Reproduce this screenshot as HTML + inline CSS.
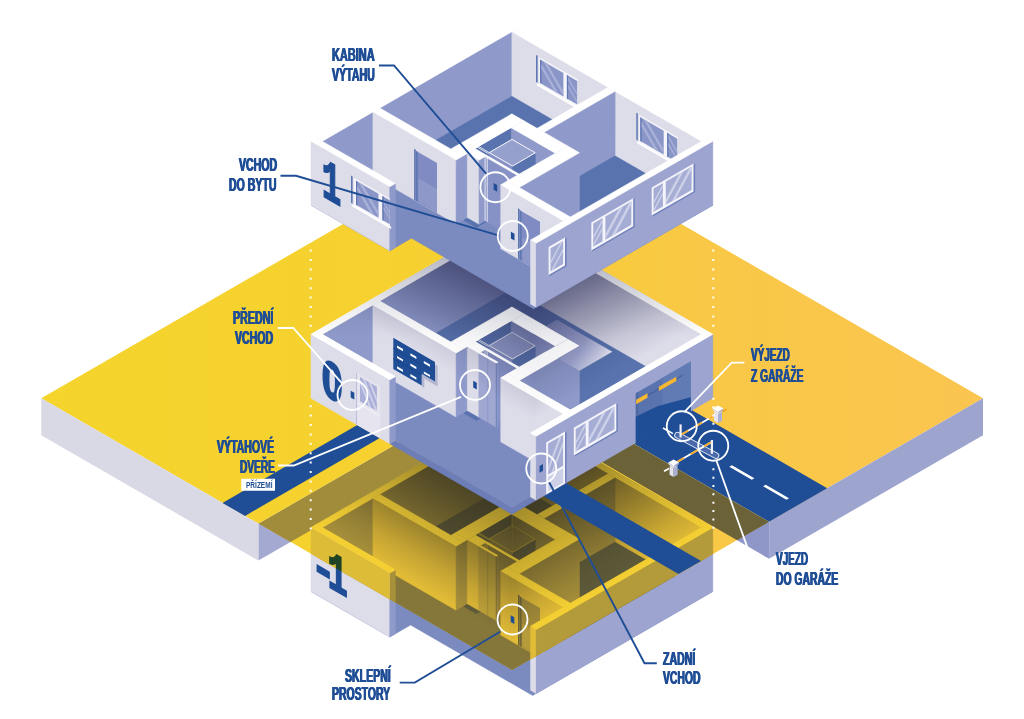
<!DOCTYPE html>
<html lang="cs"><head><meta charset="utf-8"><title>Schéma budovy</title>
<style>html,body{margin:0;padding:0;background:#fff;}
#stage{position:relative;width:1024px;height:719px;overflow:hidden;background:#fff}
svg{display:block;position:absolute;left:0;top:0}
svg text{font-family:"Liberation Mono",monospace;font-weight:bold}
.lb{position:absolute;font-family:"Liberation Sans",sans-serif;font-weight:bold;line-height:1;white-space:nowrap;transform-origin:0 0;letter-spacing:0}
</style>
</head><body>
<div id="stage">
<svg width="1024" height="719" viewBox="0 0 1024 719">
<defs>
<linearGradient id="gy" gradientUnits="userSpaceOnUse" x1="41" y1="0" x2="985" y2="0">
<stop offset="0" stop-color="#f5d42c"/><stop offset="0.45" stop-color="#f6d031"/><stop offset="0.7" stop-color="#f9c846"/><stop offset="1" stop-color="#fac550"/></linearGradient>
<linearGradient id="shR" gradientUnits="userSpaceOnUse" x1="620" y1="255" x2="670" y2="341.6">
<stop offset="0" stop-color="#2c2f58" stop-opacity="0.55"/><stop offset="0.3" stop-color="#2c2f58" stop-opacity="0.33"/><stop offset="0.7" stop-color="#2c2f58" stop-opacity="0.1"/><stop offset="1" stop-color="#2c2f58" stop-opacity="0"/></linearGradient>
<linearGradient id="shL" gradientUnits="userSpaceOnUse" x1="447.2" y1="255" x2="397.2" y2="341.6">
<stop offset="0" stop-color="#2c2f58" stop-opacity="0.55"/><stop offset="0.3" stop-color="#2c2f58" stop-opacity="0.33"/><stop offset="0.7" stop-color="#2c2f58" stop-opacity="0.1"/><stop offset="1" stop-color="#2c2f58" stop-opacity="0"/></linearGradient>
<linearGradient id="shBR" gradientUnits="userSpaceOnUse" x1="600" y1="463.3" x2="655" y2="558.6">
<stop offset="0" stop-color="#3a3520" stop-opacity="0.68"/><stop offset="0.35" stop-color="#3a3520" stop-opacity="0.4"/><stop offset="0.75" stop-color="#3a3520" stop-opacity="0.12"/><stop offset="1" stop-color="#3a3520" stop-opacity="0"/></linearGradient>
<linearGradient id="shBL" gradientUnits="userSpaceOnUse" x1="425" y1="463.3" x2="370" y2="558.6">
<stop offset="0" stop-color="#3a3520" stop-opacity="0.68"/><stop offset="0.35" stop-color="#3a3520" stop-opacity="0.4"/><stop offset="0.75" stop-color="#3a3520" stop-opacity="0.12"/><stop offset="1" stop-color="#3a3520" stop-opacity="0"/></linearGradient>
<linearGradient id="shT" gradientUnits="userSpaceOnUse" x1="0" y1="255" x2="0" y2="338">
<stop offset="0" stop-color="#2c2f58" stop-opacity="0.22"/><stop offset="1" stop-color="#2c2f58" stop-opacity="0"/></linearGradient>
<linearGradient id="ledge" gradientUnits="userSpaceOnUse" x1="545" y1="318" x2="611" y2="356">
<stop offset="0" stop-color="#8c95c7"/><stop offset="0.6" stop-color="#a6acd5"/><stop offset="0.85" stop-color="#d0d3e8"/><stop offset="1" stop-color="#f2f2f8"/></linearGradient>
</defs>
<rect width="1024" height="719" fill="#ffffff"/>
<polygon points="258.4,523.6 515.4,375.2 515.4,412.2 258.4,560.6" fill="#a3a9d1" />
<polygon points="515.4,375.2 769.1,521.8 769.1,558.8 515.4,412.2" fill="#8f97c9" />
<polygon points="311.0,591.5 511.9,475.5 712.8,591.5 532.7,695.5 410.6,625.0 389.8,637.0" fill="#7b8abf" stroke="#7b8abf" stroke-width="0.5"/>
<polygon points="379.8,558.2 511.9,482.0 608.5,537.8 476.4,614.0" fill="#5873ae" />
<polygon points="537.5,578.8 608.5,537.8 701.6,591.5 630.6,632.5" fill="#5873ae" />
<polygon points="519.3,637.8 579.5,603.0 630.6,632.5 570.4,667.2" fill="#5873ae" />
<polygon points="475.5,599.0 511.5,578.2 555.2,603.5 519.2,624.3" fill="#5873ae" />
<polygon points="316.6,524.2 322.3,527.5 322.3,591.5 316.6,588.2" fill="#dddce9" stroke="#dddce9" stroke-width="0.5" stroke-linejoin="round"/>
<polygon points="322.3,527.5 517.5,414.8 517.5,478.8 322.3,591.5" fill="#8f9aca" stroke="#8f9aca" stroke-width="0.5" stroke-linejoin="round"/>
<polygon points="316.6,524.2 511.9,411.5 517.5,414.8 322.3,527.5" fill="#ffffff" stroke="#ffffff" stroke-width="0.5" stroke-linejoin="round"/>
<polygon points="511.9,418.0 701.6,527.5 701.6,591.5 511.9,482.0" fill="#dddce9" stroke="#dddce9" stroke-width="0.5" stroke-linejoin="round"/>
<polygon points="701.6,527.5 707.2,524.2 707.2,588.2 701.6,591.5" fill="#8f9aca" stroke="#8f9aca" stroke-width="0.5" stroke-linejoin="round"/>
<polygon points="511.9,418.0 517.5,414.8 707.2,524.2 701.6,527.5" fill="#ffffff" stroke="#ffffff" stroke-width="0.5" stroke-linejoin="round"/>
<polygon points="455.2,532.8 467.3,539.8 467.3,603.8 455.2,596.8" fill="#dddce9" stroke="#dddce9" stroke-width="0.5" stroke-linejoin="round"/>
<polygon points="467.3,539.8 524.0,507.0 524.0,571.0 467.3,603.8" fill="#8f9aca" stroke="#8f9aca" stroke-width="0.5" stroke-linejoin="round"/>
<polygon points="455.2,532.8 511.9,500.0 524.0,507.0 467.3,539.8" fill="#ffffff" stroke="#ffffff" stroke-width="0.5" stroke-linejoin="round"/>
<polygon points="475.5,599.0 511.5,578.2 511.5,514.2 475.5,535.0" fill="#5873ae" />
<polygon points="450.9,535.2 463.0,542.2 463.0,606.2 450.9,599.2" fill="#dddce9" stroke="#dddce9" stroke-width="0.5" stroke-linejoin="round"/>
<polygon points="463.0,542.2 467.3,539.8 467.3,603.8 463.0,606.2" fill="#8f9aca" stroke="#8f9aca" stroke-width="0.5" stroke-linejoin="round"/>
<polygon points="450.9,535.2 455.2,532.8 467.3,539.8 463.0,542.2" fill="#ffffff" stroke="#ffffff" stroke-width="0.5" stroke-linejoin="round"/>
<polygon points="372.9,498.2 456.1,546.2 456.1,610.2 372.9,562.2" fill="#dddce9" stroke="#dddce9" stroke-width="0.5" stroke-linejoin="round"/>
<polygon points="456.1,546.2 463.0,542.2 463.0,606.2 456.1,610.2" fill="#8f9aca" stroke="#8f9aca" stroke-width="0.5" stroke-linejoin="round"/>
<polygon points="372.9,498.2 379.8,494.2 463.0,542.2 456.1,546.2" fill="#ffffff" stroke="#ffffff" stroke-width="0.5" stroke-linejoin="round"/>
<polygon points="311.0,527.5 389.8,573.0 389.8,637.0 311.0,591.5" fill="#dddce9" stroke="#dddce9" stroke-width="0.5" stroke-linejoin="round"/>
<polygon points="389.8,573.0 395.4,569.8 395.4,633.8 389.8,637.0" fill="#8f9aca" stroke="#8f9aca" stroke-width="0.5" stroke-linejoin="round"/>
<polygon points="311.0,527.5 316.6,524.2 395.4,569.8 389.8,573.0" fill="#ffffff" stroke="#ffffff" stroke-width="0.5" stroke-linejoin="round"/>
<polygon points="537.2,514.6 544.1,518.6 544.1,582.6 537.2,578.6" fill="#dddce9" stroke="#dddce9" stroke-width="0.5" stroke-linejoin="round"/>
<polygon points="544.1,518.6 615.1,477.6 615.1,541.6 544.1,582.6" fill="#8f9aca" stroke="#8f9aca" stroke-width="0.5" stroke-linejoin="round"/>
<polygon points="537.2,514.6 608.2,473.6 615.1,477.6 544.1,518.6" fill="#ffffff" stroke="#ffffff" stroke-width="0.5" stroke-linejoin="round"/>
<polygon points="511.5,514.2 555.2,539.5 555.2,603.5 511.5,578.2" fill="#8f9aca" stroke="#8f9aca" stroke-width="0.5" stroke-linejoin="round"/>
<polygon points="555.2,539.5 567.8,532.2 567.8,596.2 555.2,603.5" fill="#8f9aca" stroke="#8f9aca" stroke-width="0.5" stroke-linejoin="round"/>
<polygon points="511.5,514.2 524.0,507.0 567.8,532.2 555.2,539.5" fill="#ffffff" stroke="#ffffff" stroke-width="0.5" stroke-linejoin="round"/>
<polygon points="489.2,538.8 512.5,552.2 512.5,616.2 489.2,602.8" fill="#8691c5" stroke="#8691c5" stroke-width="0.5" stroke-linejoin="round"/>
<polygon points="512.5,552.2 535.3,539.1 535.3,603.1 512.5,616.2" fill="#5873ae" stroke="#5873ae" stroke-width="0.5" stroke-linejoin="round"/>
<polygon points="489.2,538.8 512.0,525.6 535.3,539.1 512.5,552.2" fill="#96a0cd" stroke="#96a0cd" stroke-width="0.5" stroke-linejoin="round"/>
<polygon points="489.2,538.8 512.0,525.6 535.3,539.1 512.5,552.2" fill="#96a0cd" stroke="#ffffff" stroke-width="0.9"/>
<polyline points="489.2,538.8 476.2,531.3" fill="none" stroke="#ffffff" stroke-width="0.8" />
<polyline points="488.8,540.0 475.8,532.5" fill="none" stroke="#ffffff" stroke-width="0.8" />
<polygon points="467.3,539.8 479.0,546.5 479.0,610.5 467.3,603.8" fill="#dddce9" stroke="#dddce9" stroke-width="0.5" stroke-linejoin="round"/>
<polygon points="479.0,546.5 487.1,541.8 487.1,605.8 479.0,610.5" fill="#8f9aca" stroke="#8f9aca" stroke-width="0.5" stroke-linejoin="round"/>
<polygon points="467.3,539.8 475.5,535.0 487.1,541.8 479.0,546.5" fill="#ffffff" stroke="#ffffff" stroke-width="0.5" stroke-linejoin="round"/>
<polygon points="485.1,543.0 517.1,561.5 517.1,625.5 485.1,607.0" fill="#8691c5" stroke="#8691c5" stroke-width="0.5" stroke-linejoin="round"/>
<polygon points="517.1,561.5 519.2,560.3 519.2,624.3 517.1,625.5" fill="#8f9aca" stroke="#8f9aca" stroke-width="0.5" stroke-linejoin="round"/>
<polygon points="485.1,543.0 487.1,541.8 519.2,560.3 517.1,561.5" fill="#ffffff" stroke="#ffffff" stroke-width="0.5" stroke-linejoin="round"/>
<polyline points="485.1,607.0 485.1,543.0" fill="none" stroke="#ffffff" stroke-width="0.8" />
<polyline points="487.2,608.2 487.2,544.2" fill="none" stroke="#ffffff" stroke-width="0.8" />
<polygon points="479.0,546.5 496.3,556.5 496.3,620.5 479.0,610.5" fill="#a0a8d2" stroke="#a0a8d2" stroke-width="0.5" stroke-linejoin="round"/>
<polygon points="496.3,556.5 498.1,555.5 498.1,619.5 496.3,620.5" fill="#8f9aca" stroke="#8f9aca" stroke-width="0.5" stroke-linejoin="round"/>
<polygon points="479.0,546.5 480.7,545.5 498.1,555.5 496.3,556.5" fill="#ffffff" stroke="#ffffff" stroke-width="0.5" stroke-linejoin="round"/>
<polyline points="487.7,615.5 487.7,551.5" fill="none" stroke="#8691c5" stroke-width="0.7" />
<polyline points="496.3,620.5 496.3,556.5" fill="none" stroke="#6f80ba" stroke-width="1.0" />
<polygon points="507.6,567.0 519.3,573.8 519.3,637.8 507.6,631.0" fill="#dddce9" stroke="#dddce9" stroke-width="0.5" stroke-linejoin="round"/>
<polygon points="519.3,573.8 579.5,539.0 579.5,603.0 519.3,637.8" fill="#8f9aca" stroke="#8f9aca" stroke-width="0.5" stroke-linejoin="round"/>
<polygon points="507.6,567.0 567.8,532.2 579.5,539.0 519.3,573.8" fill="#ffffff" stroke="#ffffff" stroke-width="0.5" stroke-linejoin="round"/>
<polygon points="500.7,571.0 563.4,607.2 563.4,671.2 500.7,635.0" fill="#dddce9" stroke="#dddce9" stroke-width="0.5" stroke-linejoin="round"/>
<polygon points="563.4,607.2 570.4,603.2 570.4,667.2 563.4,671.2" fill="#8f9aca" stroke="#8f9aca" stroke-width="0.5" stroke-linejoin="round"/>
<polygon points="500.7,571.0 507.6,567.0 570.4,603.2 563.4,607.2" fill="#ffffff" stroke="#ffffff" stroke-width="0.5" stroke-linejoin="round"/>
<polygon points="518.0,645.0 519.7,646.0 519.7,595.4 518.0,594.4" fill="#5f77b2" />
<polygon points="519.7,646.0 540.0,657.7 540.0,608.1 519.7,596.4" fill="#7f8bc2" />
<polygon points="522.3,646.5 540.0,656.7 540.0,633.7 522.3,623.5" fill="#8e98c9" />
<polygon points="519.7,646.0 521.6,647.1 521.6,597.5 519.7,596.4" fill="#5f77b2" />
<polygon points="530.5,626.2 536.2,629.5 536.2,693.5 530.5,690.2" fill="#dddce9" stroke="#dddce9" stroke-width="0.5" stroke-linejoin="round"/>
<polygon points="536.2,629.5 712.8,527.5 712.8,591.5 536.2,693.5" fill="#9ca4cf" stroke="#9ca4cf" stroke-width="0.5" stroke-linejoin="round"/>
<polygon points="530.5,626.2 707.2,524.2 712.8,527.5 536.2,629.5" fill="#ffffff" stroke="#ffffff" stroke-width="0.5" stroke-linejoin="round"/>
<clipPath id="cg"><polygon points="258.4,523.6 515.4,375.2 769.1,521.8 512.2,670.1"/></clipPath>
<g clip-path="url(#cg)">
<polygon points="258.4,523.6 515.4,375.2 769.1,521.8 512.2,670.1" fill="url(#gy)" />
<polygon points="258.4,523.6 515.4,375.2 515.4,412.2 258.4,560.6" fill="#a08c3a" />
<polygon points="515.4,375.2 769.1,521.8 769.1,558.8 515.4,412.2" fill="#6b6238" />
<polygon points="311.0,591.5 511.9,475.5 712.8,591.5 532.7,695.5 410.6,625.0 389.8,637.0" fill="#85763a" stroke="#85763a" stroke-width="0.5"/>
<polygon points="379.8,558.2 511.9,482.0 608.5,537.8 476.4,614.0" fill="#5f5c3b" />
<polygon points="537.5,578.8 608.5,537.8 701.6,591.5 630.6,632.5" fill="#5f5c3b" />
<polygon points="519.3,637.8 579.5,603.0 630.6,632.5 570.4,667.2" fill="#5f5c3b" />
<polygon points="475.5,599.0 511.5,578.2 555.2,603.5 519.2,624.3" fill="#5f5c3b" />
<polygon points="316.6,524.2 322.3,527.5 322.3,591.5 316.6,588.2" fill="#e3bc37" stroke="#e3bc37" stroke-width="0.5" stroke-linejoin="round"/>
<polygon points="322.3,527.5 517.5,414.8 517.5,478.8 322.3,591.5" fill="#a8913b" stroke="#a8913b" stroke-width="0.5" stroke-linejoin="round"/>
<polygon points="316.6,524.2 511.9,411.5 517.5,414.8 322.3,527.5" fill="#f4cf34" stroke="#f4cf34" stroke-width="0.5" stroke-linejoin="round"/>
<polygon points="511.9,418.0 701.6,527.5 701.6,591.5 511.9,482.0" fill="#e3bc37" stroke="#e3bc37" stroke-width="0.5" stroke-linejoin="round"/>
<polygon points="701.6,527.5 707.2,524.2 707.2,588.2 701.6,591.5" fill="#a8913b" stroke="#a8913b" stroke-width="0.5" stroke-linejoin="round"/>
<polygon points="511.9,418.0 517.5,414.8 707.2,524.2 701.6,527.5" fill="#f4cf34" stroke="#f4cf34" stroke-width="0.5" stroke-linejoin="round"/>
<polygon points="455.2,532.8 467.3,539.8 467.3,603.8 455.2,596.8" fill="#e3bc37" stroke="#e3bc37" stroke-width="0.5" stroke-linejoin="round"/>
<polygon points="467.3,539.8 524.0,507.0 524.0,571.0 467.3,603.8" fill="#a8913b" stroke="#a8913b" stroke-width="0.5" stroke-linejoin="round"/>
<polygon points="455.2,532.8 511.9,500.0 524.0,507.0 467.3,539.8" fill="#f4cf34" stroke="#f4cf34" stroke-width="0.5" stroke-linejoin="round"/>
<polygon points="475.5,599.0 511.5,578.2 511.5,514.2 475.5,535.0" fill="#5f5c3b" />
<polygon points="450.9,535.2 463.0,542.2 463.0,606.2 450.9,599.2" fill="#e3bc37" stroke="#e3bc37" stroke-width="0.5" stroke-linejoin="round"/>
<polygon points="463.0,542.2 467.3,539.8 467.3,603.8 463.0,606.2" fill="#a8913b" stroke="#a8913b" stroke-width="0.5" stroke-linejoin="round"/>
<polygon points="450.9,535.2 455.2,532.8 467.3,539.8 463.0,542.2" fill="#f4cf34" stroke="#f4cf34" stroke-width="0.5" stroke-linejoin="round"/>
<polygon points="372.9,498.2 456.1,546.2 456.1,610.2 372.9,562.2" fill="#e3bc37" stroke="#e3bc37" stroke-width="0.5" stroke-linejoin="round"/>
<polygon points="456.1,546.2 463.0,542.2 463.0,606.2 456.1,610.2" fill="#a8913b" stroke="#a8913b" stroke-width="0.5" stroke-linejoin="round"/>
<polygon points="372.9,498.2 379.8,494.2 463.0,542.2 456.1,546.2" fill="#f4cf34" stroke="#f4cf34" stroke-width="0.5" stroke-linejoin="round"/>
<polygon points="311.0,527.5 389.8,573.0 389.8,637.0 311.0,591.5" fill="#e3bc37" stroke="#e3bc37" stroke-width="0.5" stroke-linejoin="round"/>
<polygon points="389.8,573.0 395.4,569.8 395.4,633.8 389.8,637.0" fill="#a8913b" stroke="#a8913b" stroke-width="0.5" stroke-linejoin="round"/>
<polygon points="311.0,527.5 316.6,524.2 395.4,569.8 389.8,573.0" fill="#f4cf34" stroke="#f4cf34" stroke-width="0.5" stroke-linejoin="round"/>
<polygon points="537.2,514.6 544.1,518.6 544.1,582.6 537.2,578.6" fill="#e3bc37" stroke="#e3bc37" stroke-width="0.5" stroke-linejoin="round"/>
<polygon points="544.1,518.6 615.1,477.6 615.1,541.6 544.1,582.6" fill="#a8913b" stroke="#a8913b" stroke-width="0.5" stroke-linejoin="round"/>
<polygon points="537.2,514.6 608.2,473.6 615.1,477.6 544.1,518.6" fill="#f4cf34" stroke="#f4cf34" stroke-width="0.5" stroke-linejoin="round"/>
<polygon points="511.5,514.2 555.2,539.5 555.2,603.5 511.5,578.2" fill="#a8913b" stroke="#a8913b" stroke-width="0.5" stroke-linejoin="round"/>
<polygon points="555.2,539.5 567.8,532.2 567.8,596.2 555.2,603.5" fill="#a8913b" stroke="#a8913b" stroke-width="0.5" stroke-linejoin="round"/>
<polygon points="511.5,514.2 524.0,507.0 567.8,532.2 555.2,539.5" fill="#f4cf34" stroke="#f4cf34" stroke-width="0.5" stroke-linejoin="round"/>
<polygon points="489.2,538.8 512.5,552.2 512.5,616.2 489.2,602.8" fill="#9c8639" stroke="#9c8639" stroke-width="0.5" stroke-linejoin="round"/>
<polygon points="512.5,552.2 535.3,539.1 535.3,603.1 512.5,616.2" fill="#5f5c3b" stroke="#5f5c3b" stroke-width="0.5" stroke-linejoin="round"/>
<polygon points="489.2,538.8 512.0,525.6 535.3,539.1 512.5,552.2" fill="#a08a3a" stroke="#a08a3a" stroke-width="0.5" stroke-linejoin="round"/>
<polygon points="489.2,538.8 512.0,525.6 535.3,539.1 512.5,552.2" fill="#a08a3a" stroke="#f4cf34" stroke-width="0.9"/>
<polyline points="489.2,538.8 476.2,531.3" fill="none" stroke="#f4cf34" stroke-width="0.8" />
<polyline points="488.8,540.0 475.8,532.5" fill="none" stroke="#f4cf34" stroke-width="0.8" />
<polygon points="467.3,539.8 479.0,546.5 479.0,610.5 467.3,603.8" fill="#e3bc37" stroke="#e3bc37" stroke-width="0.5" stroke-linejoin="round"/>
<polygon points="479.0,546.5 487.1,541.8 487.1,605.8 479.0,610.5" fill="#a8913b" stroke="#a8913b" stroke-width="0.5" stroke-linejoin="round"/>
<polygon points="467.3,539.8 475.5,535.0 487.1,541.8 479.0,546.5" fill="#f4cf34" stroke="#f4cf34" stroke-width="0.5" stroke-linejoin="round"/>
<polygon points="485.1,543.0 517.1,561.5 517.1,625.5 485.1,607.0" fill="#9c8639" stroke="#9c8639" stroke-width="0.5" stroke-linejoin="round"/>
<polygon points="517.1,561.5 519.2,560.3 519.2,624.3 517.1,625.5" fill="#a8913b" stroke="#a8913b" stroke-width="0.5" stroke-linejoin="round"/>
<polygon points="485.1,543.0 487.1,541.8 519.2,560.3 517.1,561.5" fill="#f4cf34" stroke="#f4cf34" stroke-width="0.5" stroke-linejoin="round"/>
<polyline points="485.1,607.0 485.1,543.0" fill="none" stroke="#f4cf34" stroke-width="0.8" />
<polyline points="487.2,608.2 487.2,544.2" fill="none" stroke="#f4cf34" stroke-width="0.8" />
<polygon points="479.0,546.5 496.3,556.5 496.3,620.5 479.0,610.5" fill="#c4a63a" stroke="#c4a63a" stroke-width="0.5" stroke-linejoin="round"/>
<polygon points="496.3,556.5 498.1,555.5 498.1,619.5 496.3,620.5" fill="#a8913b" stroke="#a8913b" stroke-width="0.5" stroke-linejoin="round"/>
<polygon points="479.0,546.5 480.7,545.5 498.1,555.5 496.3,556.5" fill="#f4cf34" stroke="#f4cf34" stroke-width="0.5" stroke-linejoin="round"/>
<polyline points="487.7,615.5 487.7,551.5" fill="none" stroke="#9c8639" stroke-width="0.7" />
<polyline points="496.3,620.5 496.3,556.5" fill="none" stroke="#8a783a" stroke-width="1.0" />
<polygon points="507.6,567.0 519.3,573.8 519.3,637.8 507.6,631.0" fill="#e3bc37" stroke="#e3bc37" stroke-width="0.5" stroke-linejoin="round"/>
<polygon points="519.3,573.8 579.5,539.0 579.5,603.0 519.3,637.8" fill="#a8913b" stroke="#a8913b" stroke-width="0.5" stroke-linejoin="round"/>
<polygon points="507.6,567.0 567.8,532.2 579.5,539.0 519.3,573.8" fill="#f4cf34" stroke="#f4cf34" stroke-width="0.5" stroke-linejoin="round"/>
<polygon points="500.7,571.0 563.4,607.2 563.4,671.2 500.7,635.0" fill="#e3bc37" stroke="#e3bc37" stroke-width="0.5" stroke-linejoin="round"/>
<polygon points="563.4,607.2 570.4,603.2 570.4,667.2 563.4,671.2" fill="#a8913b" stroke="#a8913b" stroke-width="0.5" stroke-linejoin="round"/>
<polygon points="500.7,571.0 507.6,567.0 570.4,603.2 563.4,607.2" fill="#f4cf34" stroke="#f4cf34" stroke-width="0.5" stroke-linejoin="round"/>
<polygon points="518.0,645.0 519.7,646.0 519.7,595.4 518.0,594.4" fill="#6f663a" />
<polygon points="519.7,646.0 540.0,657.7 540.0,608.1 519.7,596.4" fill="#a38c39" />
<polygon points="522.3,646.5 540.0,656.7 540.0,633.7 522.3,623.5" fill="#b59b3a" />
<polygon points="519.7,646.0 521.6,647.1 521.6,597.5 519.7,596.4" fill="#6f663a" />
<polygon points="530.5,626.2 536.2,629.5 536.2,693.5 530.5,690.2" fill="#e3bc37" stroke="#e3bc37" stroke-width="0.5" stroke-linejoin="round"/>
<polygon points="536.2,629.5 712.8,527.5 712.8,591.5 536.2,693.5" fill="#b39a3a" stroke="#b39a3a" stroke-width="0.5" stroke-linejoin="round"/>
<polygon points="530.5,626.2 707.2,524.2 712.8,527.5 536.2,629.5" fill="#f4cf34" stroke="#f4cf34" stroke-width="0.5" stroke-linejoin="round"/>
<clipPath id="cbf"><polygon points="311.0,527.5 511.9,411.5 712.8,527.5 712.8,591.5 532.7,695.5 410.6,625.0 389.8,637.0"/></clipPath>
<g clip-path="url(#cbf)">
<rect x="300" y="400" width="212.5" height="320" fill="url(#shBL)"/>
<rect x="512.5" y="400" width="220" height="320" fill="url(#shBR)"/>
<polygon points="316.6,524.2 511.9,411.5 517.5,414.8 322.3,527.5" fill="#f4cf34" />
<polygon points="511.9,418.0 517.5,414.8 707.2,524.2 701.6,527.5" fill="#f4cf34" />
<polygon points="455.2,532.8 511.9,500.0 524.0,507.0 467.3,539.8" fill="#f4cf34" />
<polygon points="450.9,535.2 455.2,532.8 467.3,539.8 463.0,542.2" fill="#f4cf34" />
<polygon points="372.9,498.2 379.8,494.2 463.0,542.2 456.1,546.2" fill="#f4cf34" />
<polygon points="311.0,527.5 316.6,524.2 395.4,569.8 389.8,573.0" fill="#f4cf34" />
<polygon points="537.2,514.6 608.2,473.6 615.1,477.6 544.1,518.6" fill="#f4cf34" />
<polygon points="511.5,514.2 524.0,507.0 567.8,532.2 555.2,539.5" fill="#f4cf34" />
<polygon points="467.3,539.8 475.5,535.0 487.1,541.8 479.0,546.5" fill="#f4cf34" />
<polygon points="485.1,543.0 487.1,541.8 519.2,560.3 517.1,561.5" fill="#f4cf34" />
<polygon points="479.0,546.5 480.7,545.5 498.1,555.5 496.3,556.5" fill="#f4cf34" />
<polygon points="507.6,567.0 567.8,532.2 579.5,539.0 519.3,573.8" fill="#f4cf34" />
<polygon points="500.7,571.0 507.6,567.0 570.4,603.2 563.4,607.2" fill="#f4cf34" />
<polygon points="530.5,626.2 707.2,524.2 712.8,527.5 536.2,629.5" fill="#f4cf34" />
<g opacity="0.62">
<rect x="300" y="400" width="212.5" height="320" fill="url(#shBL)"/>
<rect x="512.5" y="400" width="220" height="320" fill="url(#shBR)"/>
</g>
</g>
</g>
<polygon points="311.0,527.5 389.8,573.0 389.8,637.0 311.0,591.5" fill="#dddce9" clip-path="url(#cg)"/>
<text transform="matrix(0.8314,0.4800,0,1,310.80,577.50)" style="font-family:Liberation Mono,monospace;font-weight:bold" font-size="50" fill="#1f4e96" stroke="#1f4e96" stroke-width="1.8" stroke-linejoin="miter">-</text>
<text transform="matrix(0.6149,0.3550,0,1,327.50,586.00)" style="font-family:Liberation Mono,monospace;font-weight:bold" font-size="55" fill="#1f4e96" stroke="#1f4e96" stroke-width="1.8" stroke-linejoin="miter">1</text>
<polygon points="311.0,527.5 389.8,573.0 389.8,637.0 311.0,591.5" fill="#ffda3c" clip-path="url(#cg)" style="mix-blend-mode:multiply"/>
<polygon points="311.0,527.5 316.6,524.2 395.4,569.8 389.8,573.0" fill="#f4cf34" clip-path="url(#cg)"/>
<polygon points="41.3,398.2 512.2,126.4 983.0,398.2 769.1,521.8 515.4,375.2 258.4,523.6" fill="url(#gy)" />
<polygon points="41.3,398.2 258.4,523.6 258.4,560.6 41.3,435.2" fill="#d9d8e5" />
<polygon points="769.1,521.8 983.0,398.2 983.0,435.2 769.1,558.8" fill="#9da4ce" />
<polygon points="222.5,502.9 357.3,425.0 379.8,438.0 245.0,515.9" fill="#1f4e96" />
<polygon points="634.0,443.8 692.1,410.2 827.2,488.2 769.1,521.8" fill="#1f4e96" />
<polygon points="543.4,496.1 566.0,483.0 701.1,561.0 678.5,574.0" fill="#1f4e96" />
<polygon points="729.3,466.8 731.9,465.2 754.4,478.2 751.8,479.8" fill="#ffffff" />
<polygon points="763.1,486.2 765.7,484.8 789.0,498.2 786.4,499.8" fill="#ffffff" />
<polygon points="389.8,443.8 395.4,440.5 511.9,507.8 530.5,497.0 536.2,500.2 511.9,514.2" fill="#6c7db8" stroke="#6c7db8" stroke-width="0.5"/>
<polygon points="316.6,395.0 511.9,282.2 707.2,395.0 511.9,507.8" fill="#7b8abf" stroke="#7b8abf" stroke-width="0.5"/>
<polygon points="379.8,365.0 511.9,288.8 608.5,344.5 476.4,420.8" fill="#5873ae" />
<polygon points="537.5,385.5 608.5,344.5 701.6,398.2 630.6,439.2" fill="#5873ae" />
<polygon points="519.3,444.5 579.5,409.8 630.6,439.2 570.4,474.0" fill="#5873ae" />
<polygon points="475.5,405.8 511.5,385.0 555.2,410.2 519.2,431.1" fill="#5873ae" />
<polygon points="316.6,331.0 322.3,334.2 322.3,398.2 316.6,395.0" fill="#dddce9" stroke="#dddce9" stroke-width="0.5" stroke-linejoin="round"/>
<polygon points="322.3,334.2 517.5,221.5 517.5,285.5 322.3,398.2" fill="#8f9aca" stroke="#8f9aca" stroke-width="0.5" stroke-linejoin="round"/>
<polygon points="316.6,331.0 511.9,218.2 517.5,221.5 322.3,334.2" fill="#ffffff" stroke="#ffffff" stroke-width="0.5" stroke-linejoin="round"/>
<polygon points="511.9,224.8 701.6,334.2 701.6,398.2 511.9,288.8" fill="#dddce9" stroke="#dddce9" stroke-width="0.5" stroke-linejoin="round"/>
<polygon points="701.6,334.2 707.2,331.0 707.2,395.0 701.6,398.2" fill="#8f9aca" stroke="#8f9aca" stroke-width="0.5" stroke-linejoin="round"/>
<polygon points="511.9,224.8 517.5,221.5 707.2,331.0 701.6,334.2" fill="#ffffff" stroke="#ffffff" stroke-width="0.5" stroke-linejoin="round"/>
<polygon points="455.2,339.5 467.3,346.5 467.3,410.5 455.2,403.5" fill="#dddce9" stroke="#dddce9" stroke-width="0.5" stroke-linejoin="round"/>
<polygon points="467.3,346.5 524.0,313.8 524.0,377.8 467.3,410.5" fill="#8f9aca" stroke="#8f9aca" stroke-width="0.5" stroke-linejoin="round"/>
<polygon points="455.2,339.5 511.9,306.8 524.0,313.8 467.3,346.5" fill="#ffffff" stroke="#ffffff" stroke-width="0.5" stroke-linejoin="round"/>
<polygon points="475.5,405.8 511.5,385.0 511.5,321.0 475.5,341.8" fill="#5873ae" />
<polygon points="450.9,342.0 463.0,349.0 463.0,413.0 450.9,406.0" fill="#dddce9" stroke="#dddce9" stroke-width="0.5" stroke-linejoin="round"/>
<polygon points="463.0,349.0 467.3,346.5 467.3,410.5 463.0,413.0" fill="#8f9aca" stroke="#8f9aca" stroke-width="0.5" stroke-linejoin="round"/>
<polygon points="450.9,342.0 455.2,339.5 467.3,346.5 463.0,349.0" fill="#ffffff" stroke="#ffffff" stroke-width="0.5" stroke-linejoin="round"/>
<polygon points="372.9,305.0 456.1,353.0 456.1,417.0 372.9,369.0" fill="#dddce9" stroke="#dddce9" stroke-width="0.5" stroke-linejoin="round"/>
<polygon points="456.1,353.0 463.0,349.0 463.0,413.0 456.1,417.0" fill="#8f9aca" stroke="#8f9aca" stroke-width="0.5" stroke-linejoin="round"/>
<polygon points="372.9,305.0 379.8,301.0 463.0,349.0 456.1,353.0" fill="#ffffff" stroke="#ffffff" stroke-width="0.5" stroke-linejoin="round"/>
<polygon points="422.5,377.8 437.6,386.5 437.6,365.9 422.5,357.1" fill="#b4b5cf" />
<polygon points="421.7,386.4 424.3,387.9 424.3,375.2 421.7,373.8" fill="#b4b5cf" />
<polygon points="393.3,369.1 421.7,385.4 421.7,373.8 435.0,381.5 435.0,361.9 393.3,337.8" fill="#1f4e96" />
<polygon points="393.3,347.8 435.0,371.9 435.0,372.7 393.3,348.6" fill="#184486" />
<polygon points="393.3,358.1 421.7,374.5 421.7,375.3 393.3,358.9" fill="#184486" />
<polygon points="397.0,345.5 403.0,349.0 403.0,351.2 397.0,347.7" fill="#ffffff" />
<polygon points="397.0,355.9 403.0,359.4 403.0,361.6 397.0,358.1" fill="#ffffff" />
<polygon points="397.0,366.3 403.0,369.8 403.0,372.0 397.0,368.5" fill="#ffffff" />
<polygon points="410.4,353.2 416.4,356.7 416.4,358.9 410.4,355.4" fill="#ffffff" />
<polygon points="410.4,363.6 416.4,367.1 416.4,369.3 410.4,365.8" fill="#ffffff" />
<polygon points="410.4,374.0 416.4,377.5 416.4,379.7 410.4,376.2" fill="#ffffff" />
<polygon points="423.8,361.0 430.0,364.6 430.0,366.8 423.8,363.2" fill="#ffffff" />
<polygon points="423.8,371.4 430.0,374.9 430.0,377.1 423.8,373.6" fill="#ffffff" />
<polygon points="311.0,334.2 389.8,379.8 389.8,443.8 311.0,398.2" fill="#dddce9" stroke="#dddce9" stroke-width="0.5" stroke-linejoin="round"/>
<polygon points="389.8,379.8 395.4,376.5 395.4,440.5 389.8,443.8" fill="#8f9aca" stroke="#8f9aca" stroke-width="0.5" stroke-linejoin="round"/>
<polygon points="311.0,334.2 316.6,331.0 395.4,376.5 389.8,379.8" fill="#ffffff" stroke="#ffffff" stroke-width="0.5" stroke-linejoin="round"/>
<polygon points="356.0,424.2 356.8,424.7 356.8,373.2 356.0,372.8" fill="#b4b7d6" />
<polygon points="357.3,425.0 380.3,438.2 380.3,386.2 357.3,373.0" fill="#e5e4ef" />
<polygon points="360.0,401.2 376.9,411.0 376.9,386.7 360.0,376.9" fill="#a9afd7" />
<polygon points="360.0,379.1 371.5,407.9 368.9,406.4 360.0,384.1" fill="#cfd2e8" />
<polygon points="362.4,378.3 365.0,379.8 376.9,409.7 376.9,411.0 375.0,409.9" fill="#cfd2e8" />
<polygon points="368.4,381.8 371.0,383.3 376.9,398.0 376.9,403.0" fill="#cfd2e8" />
<polygon points="357.8,403.8 379.4,416.2 379.4,415.2 357.8,402.8" fill="#f6f6fb" />
<text transform="matrix(0.7188,0.4150,0,1,322.00,392.80)" style="font-family:Liberation Sans,monospace;font-weight:bold" font-size="51" fill="#1f4e96" stroke="#1f4e96" stroke-width="2.6" stroke-linejoin="miter">0</text>
<polygon points="511.5,321.0 555.2,346.2 555.2,410.2 511.5,385.0" fill="#8f9aca" stroke="#8f9aca" stroke-width="0.5" stroke-linejoin="round"/>
<polygon points="555.2,346.2 567.8,339.0 567.8,403.0 555.2,410.2" fill="#8f9aca" stroke="#8f9aca" stroke-width="0.5" stroke-linejoin="round"/>
<polygon points="511.5,321.0 524.0,313.8 567.8,339.0 555.2,346.2" fill="#ffffff" stroke="#ffffff" stroke-width="0.5" stroke-linejoin="round"/>
<polygon points="489.2,345.6 512.5,359.0 512.5,423.0 489.2,409.6" fill="#8691c5" stroke="#8691c5" stroke-width="0.5" stroke-linejoin="round"/>
<polygon points="512.5,359.0 535.3,345.9 535.3,409.9 512.5,423.0" fill="#5873ae" stroke="#5873ae" stroke-width="0.5" stroke-linejoin="round"/>
<polygon points="489.2,345.6 512.0,332.4 535.3,345.9 512.5,359.0" fill="#96a0cd" stroke="#96a0cd" stroke-width="0.5" stroke-linejoin="round"/>
<polygon points="489.2,345.6 512.0,332.4 535.3,345.9 512.5,359.0" fill="#96a0cd" stroke="#ffffff" stroke-width="0.9"/>
<polyline points="489.2,345.6 476.2,338.1" fill="none" stroke="#ffffff" stroke-width="0.8" />
<polyline points="488.8,346.8 475.8,339.3" fill="none" stroke="#ffffff" stroke-width="0.8" />
<polygon points="467.3,346.5 479.0,353.2 479.0,417.2 467.3,410.5" fill="#dddce9" stroke="#dddce9" stroke-width="0.5" stroke-linejoin="round"/>
<polygon points="479.0,353.2 487.1,348.6 487.1,412.6 479.0,417.2" fill="#8f9aca" stroke="#8f9aca" stroke-width="0.5" stroke-linejoin="round"/>
<polygon points="467.3,346.5 475.5,341.8 487.1,348.6 479.0,353.2" fill="#ffffff" stroke="#ffffff" stroke-width="0.5" stroke-linejoin="round"/>
<polygon points="485.1,349.8 517.1,368.2 517.1,432.2 485.1,413.8" fill="#8691c5" stroke="#8691c5" stroke-width="0.5" stroke-linejoin="round"/>
<polygon points="517.1,368.2 519.2,367.1 519.2,431.1 517.1,432.2" fill="#8f9aca" stroke="#8f9aca" stroke-width="0.5" stroke-linejoin="round"/>
<polygon points="485.1,349.8 487.1,348.6 519.2,367.1 517.1,368.2" fill="#ffffff" stroke="#ffffff" stroke-width="0.5" stroke-linejoin="round"/>
<polyline points="485.1,413.8 485.1,349.8" fill="none" stroke="#ffffff" stroke-width="0.8" />
<polyline points="487.2,415.0 487.2,351.0" fill="none" stroke="#ffffff" stroke-width="0.8" />
<polygon points="479.0,353.2 496.3,363.2 496.3,427.2 479.0,417.2" fill="#a0a8d2" stroke="#a0a8d2" stroke-width="0.5" stroke-linejoin="round"/>
<polygon points="496.3,363.2 498.1,362.2 498.1,426.2 496.3,427.2" fill="#8f9aca" stroke="#8f9aca" stroke-width="0.5" stroke-linejoin="round"/>
<polygon points="479.0,353.2 480.7,352.2 498.1,362.2 496.3,363.2" fill="#ffffff" stroke="#ffffff" stroke-width="0.5" stroke-linejoin="round"/>
<polyline points="487.7,422.2 487.7,358.2" fill="none" stroke="#8691c5" stroke-width="0.7" />
<polyline points="496.3,427.2 496.3,363.2" fill="none" stroke="#6f80ba" stroke-width="1.0" />
<polygon points="507.6,373.8 519.3,380.5 519.3,444.5 507.6,437.8" fill="#dddce9" stroke="#dddce9" stroke-width="0.5" stroke-linejoin="round"/>
<polygon points="519.3,380.5 579.5,345.8 579.5,409.8 519.3,444.5" fill="#8f9aca" stroke="#8f9aca" stroke-width="0.5" stroke-linejoin="round"/>
<polygon points="507.6,373.8 567.8,339.0 579.5,345.8 519.3,380.5" fill="#ffffff" stroke="#ffffff" stroke-width="0.5" stroke-linejoin="round"/>
<polygon points="524.0,338.8 556.9,319.8 612.3,351.8 579.5,370.8" fill="url(#ledge)" />
<polygon points="500.7,377.8 563.4,414.0 563.4,478.0 500.7,441.8" fill="#dddce9" stroke="#dddce9" stroke-width="0.5" stroke-linejoin="round"/>
<polygon points="563.4,414.0 570.4,410.0 570.4,474.0 563.4,478.0" fill="#8f9aca" stroke="#8f9aca" stroke-width="0.5" stroke-linejoin="round"/>
<polygon points="500.7,377.8 507.6,373.8 570.4,410.0 563.4,414.0" fill="#ffffff" stroke="#ffffff" stroke-width="0.5" stroke-linejoin="round"/>
<polygon points="530.5,433.0 536.2,436.2 536.2,500.2 530.5,497.0" fill="#dddce9" stroke="#dddce9" stroke-width="0.5" stroke-linejoin="round"/>
<polygon points="536.2,436.2 712.8,334.2 712.8,398.2 536.2,500.2" fill="#9ca4cf" stroke="#9ca4cf" stroke-width="0.5" stroke-linejoin="round"/>
<polygon points="530.5,433.0 707.2,331.0 712.8,334.2 536.2,436.2" fill="#ffffff" stroke="#ffffff" stroke-width="0.5" stroke-linejoin="round"/>
<polygon points="547.1,493.9 566.6,482.7 566.6,431.7 547.1,442.9" fill="#6f80ba" />
<polygon points="546.2,494.4 565.0,483.6 565.0,431.6 546.2,442.4" fill="#f4f4fa" />
<polygon points="548.1,474.4 563.1,465.7 563.1,434.9 548.1,443.6" fill="#a6add5" />
<polygon points="559.2,437.2 561.8,435.7 548.1,472.3 548.1,466.8" fill="#cdd1e8" />
<polygon points="563.1,446.3 553.9,471.0 551.3,472.5 563.1,440.9" fill="#cdd1e8" />
<polygon points="548.1,491.4 563.1,482.7 563.1,468.2 548.1,476.9" fill="#cdd0e6" />
<polygon points="574.6,456.4 617.8,431.5 617.8,403.3 574.6,428.2" fill="#6f80ba" />
<polygon points="573.8,455.4 616.3,430.8 616.3,403.2 573.8,427.8" fill="#f4f4fa" />
<polygon points="575.7,451.6 585.7,445.8 585.7,423.0 575.7,428.9" fill="#a6add5" />
<polygon points="585.5,423.1 585.7,423.0 585.7,425.7 575.7,444.4 575.7,441.5" fill="#cdd1e8" />
<polygon points="585.7,434.1 576.6,451.1 575.7,451.6 575.7,449.9 585.7,431.2" fill="#cdd1e8" />
<polygon points="588.6,444.1 614.4,429.3 614.4,406.5 588.6,421.4" fill="#a6add5" />
<polygon points="602.2,413.5 606.1,411.2 588.6,443.8 588.6,438.7" fill="#cdd1e8" />
<polygon points="612.5,407.6 614.4,406.5 614.4,409.2 598.7,438.4 594.7,440.7" fill="#cdd1e8" />
<polygon points="635.8,442.8 690.8,411.0 690.8,361.5 635.8,393.2" fill="#5873ae" />
<polygon points="662.6,417.2 690.8,401.0 690.8,361.5 662.6,377.8" fill="#617bb5" />
<polygon points="635.8,442.8 638.4,441.2 638.4,391.8 635.8,393.2" fill="#4f69a6" />
<polygon points="635.8,443.6 690.8,411.8 690.8,397.2 657.4,406.2 635.8,416.8" fill="#1f4e96" />
<polygon points="635.8,403.1 682.5,376.1 682.5,374.4 635.8,401.4" fill="#45619f" />
<polygon points="636.2,404.2 647.5,397.7 647.5,393.3 636.2,399.8" fill="#f7b731" />
<polygon points="658.8,391.1 676.3,381.1 676.3,376.7 658.8,386.8" fill="#f7b731" />
<clipPath id="cgf"><polygon points="311.0,334.2 511.9,218.2 712.8,334.2 712.8,398.2 511.9,514.2 389.8,443.8"/></clipPath>
<g clip-path="url(#cgf)">
<rect x="300" y="200" width="233.6" height="320" fill="url(#shL)"/>
<rect x="533.6" y="200" width="200" height="320" fill="url(#shR)"/>
<polygon points="316.6,331.0 511.9,218.2 517.5,221.5 322.3,334.2" fill="#ffffff" />
<polygon points="511.9,224.8 517.5,221.5 707.2,331.0 701.6,334.2" fill="#ffffff" />
<polygon points="455.2,339.5 511.9,306.8 524.0,313.8 467.3,346.5" fill="#ffffff" />
<polygon points="450.9,342.0 455.2,339.5 467.3,346.5 463.0,349.0" fill="#ffffff" />
<polygon points="372.9,305.0 379.8,301.0 463.0,349.0 456.1,353.0" fill="#ffffff" />
<polygon points="311.0,334.2 316.6,331.0 395.4,376.5 389.8,379.8" fill="#ffffff" />
<polygon points="511.5,321.0 524.0,313.8 567.8,339.0 555.2,346.2" fill="#ffffff" />
<polygon points="467.3,346.5 475.5,341.8 487.1,348.6 479.0,353.2" fill="#ffffff" />
<polygon points="485.1,349.8 487.1,348.6 519.2,367.1 517.1,368.2" fill="#ffffff" />
<polygon points="479.0,353.2 480.7,352.2 498.1,362.2 496.3,363.2" fill="#ffffff" />
<polygon points="507.6,373.8 567.8,339.0 579.5,345.8 519.3,380.5" fill="#ffffff" />
<polygon points="500.7,377.8 507.6,373.8 570.4,410.0 563.4,414.0" fill="#ffffff" />
<polygon points="530.5,433.0 707.2,331.0 712.8,334.2 536.2,436.2" fill="#ffffff" />
<g opacity="0.3">
<rect x="300" y="200" width="233.6" height="320" fill="url(#shL)"/>
<rect x="533.6" y="200" width="200" height="320" fill="url(#shR)"/>
</g>
<rect x="300" y="200" width="434" height="150" fill="url(#shT)"/>
</g>
<line x1="677.5" y1="435.2" x2="716" y2="455.6" stroke="#e8ebf5" stroke-width="6.6" stroke-linecap="round"/>
<line x1="677.5" y1="435.2" x2="716" y2="455.6" stroke="#4a6aab" stroke-width="4.8" stroke-linecap="round"/>
<line x1="663.0" y1="428.0" x2="673.0" y2="433.6" stroke="#ffffff" stroke-width="1.6" />
<line x1="681.5" y1="434.5" x2="716.0" y2="414.5" stroke="#ffffff" stroke-width="1.8" />
<line x1="681.5" y1="434.5" x2="688.4" y2="430.5" stroke="#f7a823" stroke-width="1.8" />
<line x1="695.3" y1="426.5" x2="702.2" y2="422.5" stroke="#f7a823" stroke-width="1.8" />
<line x1="709.1" y1="418.5" x2="716.0" y2="414.5" stroke="#f7a823" stroke-width="1.8" />
<line x1="711.0" y1="442.4" x2="677.0" y2="462.0" stroke="#ffffff" stroke-width="1.8" />
<line x1="711.0" y1="442.4" x2="704.2" y2="446.3" stroke="#f7a823" stroke-width="1.8" />
<line x1="697.4" y1="450.2" x2="690.6" y2="454.2" stroke="#f7a823" stroke-width="1.8" />
<line x1="683.8" y1="458.1" x2="677.0" y2="462.0" stroke="#f7a823" stroke-width="1.8" />
<line x1="680.6" y1="424.4" x2="680.6" y2="437.5" stroke="#f2f2f8" stroke-width="2.2" />
<line x1="711.9" y1="440.0" x2="711.9" y2="453.8" stroke="#f2f2f8" stroke-width="2.2" />
<polygon points="718.0,409.5 722.0,411.8 718.0,414.1 714.0,411.8" fill="#ffffff" />
<polygon points="714.0,411.8 718.0,414.1 718.0,423.1 714.0,420.8" fill="#e4e3ee" />
<polygon points="722.0,411.8 718.0,414.1 718.0,423.1 722.0,420.8" fill="#aab0d6" />
<polygon points="712.6,408.6 718.0,411.7 718.0,413.3 712.6,410.2" fill="#d9d8e6" />
<polygon points="723.4,408.6 718.0,411.7 718.0,413.3 723.4,410.2" fill="#a0a6d0" />
<polygon points="718.0,405.5 723.4,408.6 718.0,411.7 712.6,408.6" fill="#ffffff" />
<polygon points="673.6,463.5 677.6,465.8 673.6,468.1 669.6,465.8" fill="#ffffff" />
<polygon points="669.6,465.8 673.6,468.1 673.6,477.1 669.6,474.8" fill="#e4e3ee" />
<polygon points="677.6,465.8 673.6,468.1 673.6,477.1 677.6,474.8" fill="#aab0d6" />
<polygon points="668.2,462.6 673.6,465.7 673.6,467.3 668.2,464.2" fill="#d9d8e6" />
<polygon points="679.0,462.6 673.6,465.7 673.6,467.3 679.0,464.2" fill="#a0a6d0" />
<polygon points="673.6,459.5 679.0,462.6 673.6,465.7 668.2,462.6" fill="#ffffff" />
<line x1="669.0" y1="468.5" x2="664.0" y2="471.3" stroke="#ffffff" stroke-width="1.8" />
<line x1="722.5" y1="411.8" x2="727.0" y2="409.2" stroke="#f7a823" stroke-width="1.6" />
<polygon points="311.0,205.2 511.9,89.2 712.8,205.2 533.6,308.8 411.5,238.2 389.8,250.8" fill="#7b8abf" stroke="#7b8abf" stroke-width="0.5"/>
<polygon points="379.8,172.0 511.9,95.8 608.5,151.5 476.4,227.8" fill="#5873ae" />
<polygon points="537.5,192.5 608.5,151.5 701.6,205.2 630.6,246.2" fill="#5873ae" />
<polygon points="519.3,251.5 579.5,216.8 630.6,246.2 570.4,281.0" fill="#5873ae" />
<polygon points="475.5,212.8 511.5,192.0 555.2,217.2 519.2,238.1" fill="#5873ae" />
<polygon points="316.6,138.0 322.3,141.2 322.3,205.2 316.6,202.0" fill="#dddce9" stroke="#dddce9" stroke-width="0.5" stroke-linejoin="round"/>
<polygon points="322.3,141.2 517.5,28.5 517.5,92.5 322.3,205.2" fill="#8f9aca" stroke="#8f9aca" stroke-width="0.5" stroke-linejoin="round"/>
<polygon points="316.6,138.0 511.9,25.2 517.5,28.5 322.3,141.2" fill="#ffffff" stroke="#ffffff" stroke-width="0.5" stroke-linejoin="round"/>
<polygon points="511.9,31.8 701.6,141.2 701.6,205.2 511.9,95.8" fill="#dddce9" stroke="#dddce9" stroke-width="0.5" stroke-linejoin="round"/>
<polygon points="701.6,141.2 707.2,138.0 707.2,202.0 701.6,205.2" fill="#8f9aca" stroke="#8f9aca" stroke-width="0.5" stroke-linejoin="round"/>
<polygon points="511.9,31.8 517.5,28.5 707.2,138.0 701.6,141.2" fill="#ffffff" stroke="#ffffff" stroke-width="0.5" stroke-linejoin="round"/>
<polygon points="536.0,81.9 537.6,82.8 537.6,55.8 536.0,54.9" fill="#5f77b2" />
<polygon points="538.8,85.0 578.0,107.6 578.0,79.6 538.8,57.0" fill="#f4f4fa" />
<polygon points="536.9,85.4 579.3,109.9 579.3,107.6 536.9,83.1" fill="#ffffff" />
<polygon points="540.1,83.1 563.4,96.6 563.4,72.9 540.1,59.4" fill="#8b96c8" />
<polygon points="540.1,83.1 541.4,83.8 541.4,60.2 540.1,59.4" fill="#5f77b2" />
<polygon points="541.4,64.0 558.5,93.8 554.5,91.5 541.4,68.6" fill="#a9b1d7" />
<polygon points="543.4,61.3 547.3,63.6 563.4,91.5 563.4,96.1" fill="#a9b1d7" />
<polygon points="566.9,98.6 577.3,104.6 577.3,80.9 566.9,74.9" fill="#8b96c8" />
<polygon points="566.9,98.6 568.2,99.3 568.2,75.7 566.9,74.9" fill="#5f77b2" />
<polygon points="568.2,85.2 577.3,101.0 577.3,103.5 568.2,87.8" fill="#a9b1d7" />
<polygon points="568.2,77.4 577.3,93.2 577.3,95.8 568.2,80.0" fill="#a9b1d7" />
<polygon points="636.3,139.8 637.8,140.6 637.8,113.6 636.3,112.8" fill="#5f77b2" />
<polygon points="639.1,142.8 677.8,165.2 677.8,137.2 639.1,114.8" fill="#f4f4fa" />
<polygon points="637.1,143.2 679.1,167.4 679.1,165.2 637.1,141.0" fill="#ffffff" />
<polygon points="640.3,141.0 663.7,154.5 663.7,130.8 640.3,117.3" fill="#8b96c8" />
<polygon points="640.3,141.0 641.6,141.8 641.6,118.1 640.3,117.3" fill="#5f77b2" />
<polygon points="641.6,121.9 658.8,151.7 654.8,149.4 641.6,126.5" fill="#a9b1d7" />
<polygon points="643.6,119.2 647.6,121.5 663.7,149.4 663.7,154.0" fill="#a9b1d7" />
<polygon points="667.2,156.5 677.3,162.3 677.3,138.7 667.2,132.8" fill="#8b96c8" />
<polygon points="667.2,156.5 668.5,157.2 668.5,133.6 667.2,132.8" fill="#5f77b2" />
<polygon points="668.5,143.1 677.3,158.4 677.3,161.0 668.5,145.7" fill="#a9b1d7" />
<polygon points="668.5,135.5 677.3,150.8 677.3,153.4 668.5,138.1" fill="#a9b1d7" />
<polygon points="455.2,146.5 467.3,153.5 467.3,217.5 455.2,210.5" fill="#dddce9" stroke="#dddce9" stroke-width="0.5" stroke-linejoin="round"/>
<polygon points="467.3,153.5 524.0,120.8 524.0,184.8 467.3,217.5" fill="#8f9aca" stroke="#8f9aca" stroke-width="0.5" stroke-linejoin="round"/>
<polygon points="455.2,146.5 511.9,113.8 524.0,120.8 467.3,153.5" fill="#ffffff" stroke="#ffffff" stroke-width="0.5" stroke-linejoin="round"/>
<polygon points="475.5,212.8 511.5,192.0 511.5,128.0 475.5,148.8" fill="#5873ae" />
<polygon points="450.9,149.0 463.0,156.0 463.0,220.0 450.9,213.0" fill="#dddce9" stroke="#dddce9" stroke-width="0.5" stroke-linejoin="round"/>
<polygon points="463.0,156.0 467.3,153.5 467.3,217.5 463.0,220.0" fill="#8f9aca" stroke="#8f9aca" stroke-width="0.5" stroke-linejoin="round"/>
<polygon points="450.9,149.0 455.2,146.5 467.3,153.5 463.0,156.0" fill="#ffffff" stroke="#ffffff" stroke-width="0.5" stroke-linejoin="round"/>
<polygon points="372.9,112.0 456.1,160.0 456.1,224.0 372.9,176.0" fill="#dddce9" stroke="#dddce9" stroke-width="0.5" stroke-linejoin="round"/>
<polygon points="456.1,160.0 463.0,156.0 463.0,220.0 456.1,224.0" fill="#8f9aca" stroke="#8f9aca" stroke-width="0.5" stroke-linejoin="round"/>
<polygon points="372.9,112.0 379.8,108.0 463.0,156.0 456.1,160.0" fill="#ffffff" stroke="#ffffff" stroke-width="0.5" stroke-linejoin="round"/>
<polygon points="414.1,199.8 415.8,200.8 415.8,149.8 414.1,148.8" fill="#5f77b2" />
<polygon points="415.8,200.8 437.0,213.0 437.0,163.0 415.8,150.8" fill="#7f8bc2" />
<polygon points="418.4,201.2 437.0,212.0 437.0,189.0 418.4,178.2" fill="#8e98c9" />
<polygon points="415.8,200.8 417.7,201.8 417.7,151.8 415.8,150.8" fill="#5f77b2" />
<polygon points="311.0,141.2 389.8,186.8 389.8,250.8 311.0,205.2" fill="#dddce9" stroke="#dddce9" stroke-width="0.5" stroke-linejoin="round"/>
<polygon points="389.8,186.8 395.4,183.5 395.4,247.5 389.8,250.8" fill="#8f9aca" stroke="#8f9aca" stroke-width="0.5" stroke-linejoin="round"/>
<polygon points="311.0,141.2 316.6,138.0 395.4,183.5 389.8,186.8" fill="#ffffff" stroke="#ffffff" stroke-width="0.5" stroke-linejoin="round"/>
<polygon points="351.0,202.8 352.6,203.8 352.6,176.6 351.0,175.6" fill="#5f77b2" />
<polygon points="353.8,205.9 389.8,226.8 389.8,198.6 353.8,177.8" fill="#f4f4fa" />
<polygon points="351.9,206.3 391.1,229.0 391.1,226.7 351.9,204.0" fill="#ffffff" />
<polygon points="356.0,204.7 378.5,217.7 378.5,193.8 356.0,180.8" fill="#8b96c8" />
<polygon points="356.0,204.7 357.3,205.4 357.3,181.5 356.0,180.8" fill="#5f77b2" />
<polygon points="357.3,185.7 374.4,215.3 370.4,213.0 357.3,190.3" fill="#a9b1d7" />
<polygon points="358.7,182.3 362.7,184.6 378.5,212.0 378.5,216.6" fill="#a9b1d7" />
<polygon points="382.4,219.9 389.8,224.2 389.8,200.2 382.4,196.0" fill="#8b96c8" />
<polygon points="382.4,219.9 383.7,220.7 383.7,196.8 382.4,196.0" fill="#5f77b2" />
<polygon points="383.7,206.8 389.8,217.2 389.8,219.8 383.7,209.3" fill="#a9b1d7" />
<polygon points="383.7,201.2 389.8,211.7 389.8,214.3 383.7,203.8" fill="#a9b1d7" />
<text transform="matrix(0.5716,0.3300,0,1,321.70,195.30)" style="font-family:Liberation Mono,monospace;font-weight:bold" font-size="57" fill="#1f4e96" stroke="#1f4e96" stroke-width="1.8" stroke-linejoin="miter">1</text>
<polygon points="537.2,128.3 544.1,132.3 544.1,196.3 537.2,192.3" fill="#dddce9" stroke="#dddce9" stroke-width="0.5" stroke-linejoin="round"/>
<polygon points="544.1,132.3 615.1,91.3 615.1,155.3 544.1,196.3" fill="#8f9aca" stroke="#8f9aca" stroke-width="0.5" stroke-linejoin="round"/>
<polygon points="537.2,128.3 608.2,87.3 615.1,91.3 544.1,132.3" fill="#ffffff" stroke="#ffffff" stroke-width="0.5" stroke-linejoin="round"/>
<polygon points="511.5,128.0 555.2,153.2 555.2,217.2 511.5,192.0" fill="#8f9aca" stroke="#8f9aca" stroke-width="0.5" stroke-linejoin="round"/>
<polygon points="555.2,153.2 567.8,146.0 567.8,210.0 555.2,217.2" fill="#8f9aca" stroke="#8f9aca" stroke-width="0.5" stroke-linejoin="round"/>
<polygon points="511.5,128.0 524.0,120.8 567.8,146.0 555.2,153.2" fill="#ffffff" stroke="#ffffff" stroke-width="0.5" stroke-linejoin="round"/>
<polygon points="489.2,152.6 512.5,166.0 512.5,230.0 489.2,216.6" fill="#8691c5" stroke="#8691c5" stroke-width="0.5" stroke-linejoin="round"/>
<polygon points="512.5,166.0 535.3,152.8 535.3,216.8 512.5,230.0" fill="#5873ae" stroke="#5873ae" stroke-width="0.5" stroke-linejoin="round"/>
<polygon points="489.2,152.6 512.0,139.4 535.3,152.8 512.5,166.0" fill="#96a0cd" stroke="#96a0cd" stroke-width="0.5" stroke-linejoin="round"/>
<polygon points="489.2,152.6 512.0,139.4 535.3,152.8 512.5,166.0" fill="#96a0cd" stroke="#ffffff" stroke-width="0.9"/>
<polyline points="489.2,152.6 476.2,145.1" fill="none" stroke="#ffffff" stroke-width="0.8" />
<polyline points="488.8,153.8 475.8,146.3" fill="none" stroke="#ffffff" stroke-width="0.8" />
<polygon points="467.3,153.5 479.0,160.2 479.0,224.2 467.3,217.5" fill="#dddce9" stroke="#dddce9" stroke-width="0.5" stroke-linejoin="round"/>
<polygon points="479.0,160.2 487.1,155.6 487.1,219.6 479.0,224.2" fill="#8f9aca" stroke="#8f9aca" stroke-width="0.5" stroke-linejoin="round"/>
<polygon points="467.3,153.5 475.5,148.8 487.1,155.6 479.0,160.2" fill="#ffffff" stroke="#ffffff" stroke-width="0.5" stroke-linejoin="round"/>
<polygon points="485.1,156.8 517.1,175.2 517.1,239.2 485.1,220.8" fill="#8691c5" stroke="#8691c5" stroke-width="0.5" stroke-linejoin="round"/>
<polygon points="517.1,175.2 519.2,174.1 519.2,238.1 517.1,239.2" fill="#8f9aca" stroke="#8f9aca" stroke-width="0.5" stroke-linejoin="round"/>
<polygon points="485.1,156.8 487.1,155.6 519.2,174.1 517.1,175.2" fill="#ffffff" stroke="#ffffff" stroke-width="0.5" stroke-linejoin="round"/>
<polyline points="485.1,220.8 485.1,156.8" fill="none" stroke="#ffffff" stroke-width="0.8" />
<polyline points="487.2,222.0 487.2,158.0" fill="none" stroke="#ffffff" stroke-width="0.8" />
<polygon points="507.6,180.8 519.3,187.5 519.3,251.5 507.6,244.8" fill="#dddce9" stroke="#dddce9" stroke-width="0.5" stroke-linejoin="round"/>
<polygon points="519.3,187.5 579.5,152.8 579.5,216.8 519.3,251.5" fill="#8f9aca" stroke="#8f9aca" stroke-width="0.5" stroke-linejoin="round"/>
<polygon points="507.6,180.8 567.8,146.0 579.5,152.8 519.3,187.5" fill="#ffffff" stroke="#ffffff" stroke-width="0.5" stroke-linejoin="round"/>
<polygon points="500.7,184.8 563.4,221.0 563.4,285.0 500.7,248.8" fill="#dddce9" stroke="#dddce9" stroke-width="0.5" stroke-linejoin="round"/>
<polygon points="563.4,221.0 570.4,217.0 570.4,281.0 563.4,285.0" fill="#8f9aca" stroke="#8f9aca" stroke-width="0.5" stroke-linejoin="round"/>
<polygon points="500.7,184.8 507.6,180.8 570.4,217.0 563.4,221.0" fill="#ffffff" stroke="#ffffff" stroke-width="0.5" stroke-linejoin="round"/>
<polygon points="518.0,258.8 519.7,259.8 519.7,209.2 518.0,208.2" fill="#5f77b2" />
<polygon points="519.7,259.8 540.0,271.4 540.0,221.8 519.7,210.2" fill="#7f8bc2" />
<polygon points="522.3,260.2 540.0,270.4 540.0,247.4 522.3,237.2" fill="#8e98c9" />
<polygon points="519.7,259.8 521.6,260.9 521.6,211.3 519.7,210.2" fill="#5f77b2" />
<polygon points="530.5,240.0 536.2,243.2 536.2,307.2 530.5,304.0" fill="#dddce9" stroke="#dddce9" stroke-width="0.5" stroke-linejoin="round"/>
<polygon points="536.2,243.2 712.8,141.2 712.8,205.2 536.2,307.2" fill="#9ca4cf" stroke="#9ca4cf" stroke-width="0.5" stroke-linejoin="round"/>
<polygon points="530.5,240.0 707.2,138.0 712.8,141.2 536.2,243.2" fill="#ffffff" stroke="#ffffff" stroke-width="0.5" stroke-linejoin="round"/>
<polygon points="549.4,276.2 566.6,266.3 566.6,237.7 549.4,247.6" fill="#6f80ba" />
<polygon points="548.6,275.1 565.0,265.6 565.0,237.6 548.6,247.1" fill="#f4f4fa" />
<polygon points="550.5,271.4 563.1,264.1 563.1,240.9 550.5,248.2" fill="#a6add5" />
<polygon points="560.8,242.2 563.0,240.9 550.5,264.3 550.5,261.4" fill="#cdd1e8" />
<polygon points="563.1,251.3 553.1,269.8 550.9,271.1 563.1,248.4" fill="#cdd1e8" />
<polygon points="592.2,251.5 634.7,226.9 634.7,198.3 592.2,222.9" fill="#6f80ba" />
<polygon points="591.3,250.4 633.2,226.2 633.2,198.2 591.3,222.4" fill="#f4f4fa" />
<polygon points="593.2,246.7 602.5,241.3 602.5,218.1 593.2,223.5" fill="#a6add5" />
<polygon points="602.5,221.9 593.2,239.2 593.2,236.3 602.5,219.1" fill="#cdd1e8" />
<polygon points="602.5,229.7 593.4,246.6 593.2,246.7 593.2,244.0 602.5,226.8" fill="#cdd1e8" />
<polygon points="605.4,239.7 631.3,224.8 631.3,201.6 605.4,216.4" fill="#a6add5" />
<polygon points="619.1,208.5 623.1,206.2 605.4,239.1 605.4,234.0" fill="#cdd1e8" />
<polygon points="629.5,202.6 631.3,201.6 631.3,204.4 615.4,233.9 611.4,236.2" fill="#cdd1e8" />
<polygon points="652.6,216.7 695.1,192.1 695.1,163.5 652.6,188.1" fill="#6f80ba" />
<polygon points="651.7,215.6 693.5,191.4 693.5,163.4 651.7,187.6" fill="#f4f4fa" />
<polygon points="653.6,211.8 662.9,206.5 662.9,183.3 653.6,188.6" fill="#a6add5" />
<polygon points="662.9,187.1 653.6,204.3 653.6,201.4 662.9,184.2" fill="#cdd1e8" />
<polygon points="662.9,194.8 653.8,211.8 653.6,211.8 653.6,209.2 662.9,191.9" fill="#cdd1e8" />
<polygon points="665.8,204.8 691.6,189.9 691.6,166.7 665.8,181.6" fill="#a6add5" />
<polygon points="679.5,173.7 683.5,171.4 665.8,204.3 665.8,199.2" fill="#cdd1e8" />
<polygon points="689.8,167.7 691.6,166.7 691.6,169.5 675.7,199.1 671.7,201.4" fill="#cdd1e8" />
<line x1="310.7" y1="212" x2="310.7" y2="332" stroke="#ffffff" stroke-width="2" stroke-dasharray="2 7.40" />
<line x1="310.7" y1="405.2" x2="310.7" y2="529.5" stroke="#ffffff" stroke-width="2" stroke-dasharray="2 7.40" />
<line x1="713.3" y1="212" x2="713.3" y2="332" stroke="#ffffff" stroke-width="2" stroke-dasharray="2 7.40" />
<line x1="713.4" y1="397.8" x2="713.4" y2="428" stroke="#ffffff" stroke-width="2" stroke-dasharray="2 6.35" />
<line x1="713.4" y1="468.3" x2="713.4" y2="529.5" stroke="#ffffff" stroke-width="2" stroke-dasharray="2 6.35" />
<polyline points="379.0,65.5 394.0,65.5 486.3,173.8" fill="none" stroke="#1f4e96" stroke-width="1.9" />
<polyline points="280.5,175.8 296.0,175.8 497.5,235.2" fill="none" stroke="#1f4e96" stroke-width="1.9" />
<polyline points="277.7,328.0 293.3,328.0 342.5,383.8" fill="none" stroke="#ffffff" stroke-width="1.8" />
<polyline points="278.0,465.5 293.8,465.5 461.0,396.8" fill="none" stroke="#ffffff" stroke-width="1.8" />
<polyline points="399.7,682.6 414.8,682.6 500.5,631.5" fill="none" stroke="#1f4e96" stroke-width="1.9" />
<polyline points="656.8,663.3 644.5,663.3 549.0,482.0" fill="none" stroke="#1f4e96" stroke-width="1.9" />
<polyline points="744.4,362.6 731.7,362.6 685.0,411.4" fill="none" stroke="#ffffff" stroke-width="1.8" />
<polyline points="716.2,460.0 747.0,546.4 755.0,567.0 772.0,567.0" fill="none" stroke="#ffffff" stroke-width="1.8" />
<circle cx="495.4" cy="187.25" r="15" fill="none" stroke="#ffffff" stroke-width="1.8"/>
<circle cx="512.75" cy="236" r="15" fill="none" stroke="#ffffff" stroke-width="1.8"/>
<circle cx="352.5" cy="395" r="15" fill="none" stroke="#ffffff" stroke-width="1.8"/>
<circle cx="475" cy="385" r="15" fill="none" stroke="#ffffff" stroke-width="1.8"/>
<circle cx="541.25" cy="468.5" r="15" fill="none" stroke="#ffffff" stroke-width="1.8"/>
<circle cx="512.5" cy="619.5" r="15" fill="none" stroke="#ffffff" stroke-width="1.8"/>
<circle cx="681.75" cy="426.25" r="15" fill="none" stroke="#ffffff" stroke-width="1.8"/>
<circle cx="713.25" cy="445.75" r="15" fill="none" stroke="#ffffff" stroke-width="1.8"/>
<polygon points="493.6,183.1 497.2,185.1 497.2,191.8 493.6,189.8" fill="#1f4e96" />
<polygon points="510.9,231.8 514.5,233.8 514.5,240.6 510.9,238.6" fill="#1f4e96" />
<polygon points="350.7,390.8 354.3,392.8 354.3,399.6 350.7,397.6" fill="#1f4e96" />
<polygon points="473.2,380.8 476.8,382.8 476.8,389.6 473.2,387.6" fill="#1f4e96" />
<polygon points="539.5,465.9 543.0,463.9 543.0,470.7 539.5,472.7" fill="#1f4e96" />
<polygon points="510.7,615.3 514.3,617.3 514.3,624.1 510.7,622.1" fill="#1f4e96" />
<rect x="241.25" y="478.75" width="33.75" height="12" fill="#ffffff"/>
</svg>
<div class="lb" style="left:332.45px;top:46.24px;font-size:18.5px;color:#1f4e96;transform:scaleX(0.5921);text-shadow:0.75px 0 0 #1f4e96,-0.75px 0 0 #1f4e96;">KABINA</div>
<div class="lb" style="left:332.20px;top:65.74px;font-size:18.5px;color:#1f4e96;transform:scaleX(0.5737);text-shadow:0.75px 0 0 #1f4e96,-0.75px 0 0 #1f4e96;">VÝTAHU</div>
<div class="lb" style="left:238.75px;top:156.14px;font-size:18.5px;color:#1f4e96;transform:scaleX(0.5703);text-shadow:0.75px 0 0 #1f4e96,-0.75px 0 0 #1f4e96;">VCHOD</div>
<div class="lb" style="left:229.35px;top:175.84px;font-size:18.5px;color:#1f4e96;transform:scaleX(0.5706);text-shadow:0.75px 0 0 #1f4e96,-0.75px 0 0 #1f4e96;">DO BYTU</div>
<div class="lb" style="left:232.95px;top:309.14px;font-size:18.5px;color:#1f4e96;transform:scaleX(0.5772);text-shadow:0.75px 0 0 #1f4e96,-0.75px 0 0 #1f4e96;">PŘEDNÍ</div>
<div class="lb" style="left:235.15px;top:328.84px;font-size:18.5px;color:#1f4e96;transform:scaleX(0.5710);text-shadow:0.75px 0 0 #1f4e96,-0.75px 0 0 #1f4e96;">VCHOD</div>
<div class="lb" style="left:217.45px;top:438.24px;font-size:18.5px;color:#1f4e96;transform:scaleX(0.5687);text-shadow:0.75px 0 0 #1f4e96,-0.75px 0 0 #1f4e96;">VÝTAHOVÉ</div>
<div class="lb" style="left:239.70px;top:457.74px;font-size:18.5px;color:#1f4e96;transform:scaleX(0.5467);text-shadow:0.75px 0 0 #1f4e96,-0.75px 0 0 #1f4e96;">DVEŘE</div>
<div class="lb" style="left:245.50px;top:481.31px;font-size:9.2px;color:#1f4e96;transform:scaleX(0.7102);">PŘÍZEMÍ</div>
<div class="lb" style="left:344.75px;top:666.54px;font-size:18.5px;color:#1f4e96;transform:scaleX(0.5712);text-shadow:0.75px 0 0 #1f4e96,-0.75px 0 0 #1f4e96;">SKLEPNÍ</div>
<div class="lb" style="left:332.45px;top:685.44px;font-size:18.5px;color:#1f4e96;transform:scaleX(0.5652);text-shadow:0.75px 0 0 #1f4e96,-0.75px 0 0 #1f4e96;">PROSTORY</div>
<div class="lb" style="left:663.05px;top:650.24px;font-size:18.5px;color:#1f4e96;transform:scaleX(0.5715);text-shadow:0.75px 0 0 #1f4e96,-0.75px 0 0 #1f4e96;">ZADNÍ</div>
<div class="lb" style="left:663.05px;top:669.04px;font-size:18.5px;color:#1f4e96;transform:scaleX(0.5613);text-shadow:0.75px 0 0 #1f4e96,-0.75px 0 0 #1f4e96;">VCHOD</div>
<div class="lb" style="left:751.15px;top:346.24px;font-size:18.5px;color:#1f4e96;transform:scaleX(0.5391);text-shadow:0.75px 0 0 #1f4e96,-0.75px 0 0 #1f4e96;">VÝJEZD</div>
<div class="lb" style="left:751.15px;top:366.64px;font-size:18.5px;color:#1f4e96;transform:scaleX(0.5542);text-shadow:0.75px 0 0 #1f4e96,-0.75px 0 0 #1f4e96;">Z GARÁŽE</div>
<div class="lb" style="left:776.35px;top:550.44px;font-size:18.5px;color:#1f4e96;transform:scaleX(0.5383);text-shadow:0.75px 0 0 #1f4e96,-0.75px 0 0 #1f4e96;">VJEZD</div>
<div class="lb" style="left:776.35px;top:570.24px;font-size:18.5px;color:#1f4e96;transform:scaleX(0.5604);text-shadow:0.75px 0 0 #1f4e96,-0.75px 0 0 #1f4e96;">DO GARÁŽE</div>
</div>
</body></html>
